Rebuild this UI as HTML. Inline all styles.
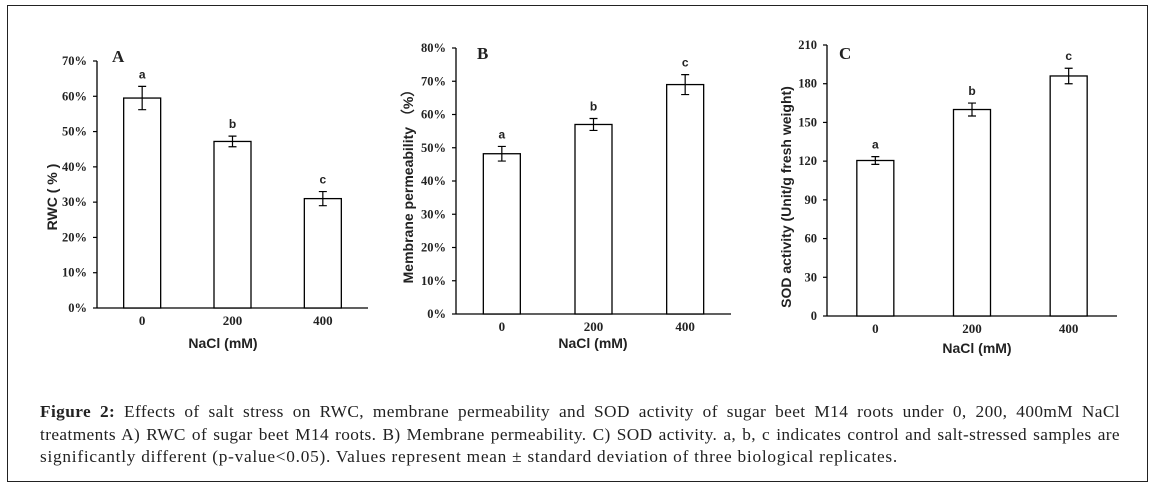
<!DOCTYPE html>
<html>
<head>
<meta charset="utf-8">
<style>
html,body{margin:0;padding:0;background:#fff;}
body{width:1159px;height:492px;position:relative;overflow:hidden;}
#frame{position:absolute;left:7px;top:5px;width:1141px;height:477px;border:1.5px solid #222;box-sizing:border-box;}
svg{position:absolute;left:0;top:0;}
.cap{position:absolute;left:40px;width:1080px;font-family:"Liberation Serif",serif;font-size:17.3px;letter-spacing:0.4px;color:#222;white-space:nowrap;}
.just{text-align:justify;text-align-last:justify;}
</style>
</head>
<body>
<div id="frame"></div>
<svg id="chart" width="1159" height="492"></svg>
<div class="cap just" style="top:402px;"><b>Figure 2:</b> Effects of salt stress on RWC, membrane permeability and SOD activity of sugar beet M14 roots under 0, 200, 400mM NaCl</div>
<div class="cap just" style="top:425px;">treatments A) RWC of sugar beet M14 roots. B) Membrane permeability. C) SOD activity. a, b, c indicates control and salt-stressed samples are</div>
<div class="cap" style="top:447px;width:auto;letter-spacing:0.75px;">significantly different (p-value&lt;0.05). Values represent mean ± standard deviation of three biological replicates.</div>
<script>
const categories = ["0", "200", "400"];
const rwcValues = [59.5, 47.2, 31.0];
const rwcErrors = [3.3, 1.5, 2.0];
const rwcLetters = ["a", "b", "c"];
const rwcTicks = [0, 10, 20, 30, 40, 50, 60, 70];
const mpValues = [48.2, 57.0, 69.0];
const mpErrors = [2.2, 1.8, 3.0];
const mpLetters = ["a", "b", "c"];
const mpTicks = [0, 10, 20, 30, 40, 50, 60, 70, 80];
const sodValues = [120.5, 160.0, 186.0];
const sodErrors = [3.0, 5.0, 6.0];
const sodLetters = ["a", "b", "c"];
const sodTicks = [0, 30, 60, 90, 120, 150, 180, 210];

const svg = document.getElementById('chart');
const NS = 'http://www.w3.org/2000/svg';
function mk(tag, attrs, text) {
  const e = document.createElementNS(NS, tag);
  for (const k in attrs) e.setAttribute(k, attrs[k]);
  if (text !== undefined) e.textContent = text;
  return e;
}

function panel(p) {
  const g = mk('g', {});
  
  
  svg.appendChild(g);
  const maxV = p.ticks[p.ticks.length - 1];
  const y = v => p.yBot - (v / maxV) * (p.yBot - p.yTop);
  const band = (p.x1 - p.x0) / p.cats.length;
  const xc = i => p.x0 + band * (i + 0.5);
  const ya = mk('line', {x1: p.x0, y1: p.yTop, x2: p.x0, y2: p.yBot, stroke: '#000', 'stroke-width': 1.3});
  
  
  g.appendChild(ya);
  const xa = mk('line', {x1: p.x0, y1: p.yBot, x2: p.x1, y2: p.yBot, stroke: '#000', 'stroke-width': 1.3});
  
  
  g.appendChild(xa);
  p.ticks.forEach(t => {
    const tk = mk('line', {x1: p.x0 - 4, y1: y(t), x2: p.x0, y2: y(t), stroke: '#000', 'stroke-width': 1.2});
    
    
    g.appendChild(tk);
    const lb = mk('text', {x: p.x0 - 10, y: y(t) + 4, 'text-anchor': 'end', 'font-family': 'Liberation Serif, serif', 'font-weight': 'bold', 'font-size': 12.5, fill: '#222'}, t + p.suffix);
    
    
    g.appendChild(lb);
  });
  p.vals.forEach((v, i) => {
    const bw = 37;
    const r = mk('rect', {x: xc(i) - bw / 2, y: y(v), width: bw, height: p.yBot - y(v), fill: '#fff', stroke: '#000', 'stroke-width': 1.3});
    
    
    g.appendChild(r);
    const top = y(v + p.errs[i]), bot = y(v - p.errs[i]);
    const eb = mk('path', {d: `M${xc(i)},${top}V${bot}M${xc(i)-4},${top}H${xc(i)+4}M${xc(i)-4},${bot}H${xc(i)+4}`, stroke: '#000', 'stroke-width': 1.2, fill: 'none'});
    
    
    g.appendChild(eb);
    const lt = mk('text', {x: xc(i), y: top - 8, 'text-anchor': 'middle', 'font-family': 'Liberation Sans, sans-serif', 'font-weight': 'bold', 'font-size': 12, fill: '#222'}, p.letters[i]);
    
    
    g.appendChild(lt);
    const cl = mk('text', {x: xc(i), y: p.yBot + 17, 'text-anchor': 'middle', 'font-family': 'Liberation Serif, serif', 'font-weight': 'bold', 'font-size': 13, fill: '#222'}, p.cats[i]);
    
    
    g.appendChild(cl);
  });
  const xt = mk('text', {x: p.xtX, y: p.xtY, 'text-anchor': 'middle', 'font-family': 'Liberation Sans, sans-serif', 'font-weight': 'bold', 'font-size': 14, fill: '#222'}, 'NaCl (mM)');
  
  
  g.appendChild(xt);
  const yt = mk('text', {x: 0, y: 0, transform: `translate(${p.ytX},${p.ytY}) rotate(-90)`, 'text-anchor': 'middle', 'font-family': 'Liberation Sans, sans-serif', 'font-weight': 'bold', 'font-size': 14, fill: '#222'}, p.ytitle);
  
  
  g.appendChild(yt);
  const pl = mk('text', {x: p.lx, y: p.ly, 'font-family': 'Liberation Serif, serif', 'font-weight': 'bold', 'font-size': 17, fill: '#222'}, p.letter);
  
  
  g.appendChild(pl);
}

panel({name: 'panel-a-rwc', cats: categories, vals: rwcValues, errs: rwcErrors, letters: rwcLetters, ticks: rwcTicks, suffix: '%',
  x0: 97, x1: 368, yTop: 61, yBot: 308, xtX: 223, xtY: 348, ytX: 57, ytY: 197, ytitle: 'RWC ( % )', letter: 'A', lx: 112, ly: 62});
panel({name: 'panel-b-membrane', cats: categories, vals: mpValues, errs: mpErrors, letters: mpLetters, ticks: mpTicks, suffix: '%',
  x0: 456, x1: 731, yTop: 48, yBot: 314, xtX: 593, xtY: 348, ytX: 413, ytY: 183, ytitle: 'Membrane permeability （%）', letter: 'B', lx: 477, ly: 59});
panel({name: 'panel-c-sod', cats: categories, vals: sodValues, errs: sodErrors, letters: sodLetters, ticks: sodTicks, suffix: '',
  x0: 827, x1: 1117, yTop: 45, yBot: 316, xtX: 977, xtY: 353, ytX: 791, ytY: 197, ytitle: 'SOD activity (Unit/g fresh weight)', letter: 'C', lx: 839, ly: 59});
</script>
</body>
</html>
